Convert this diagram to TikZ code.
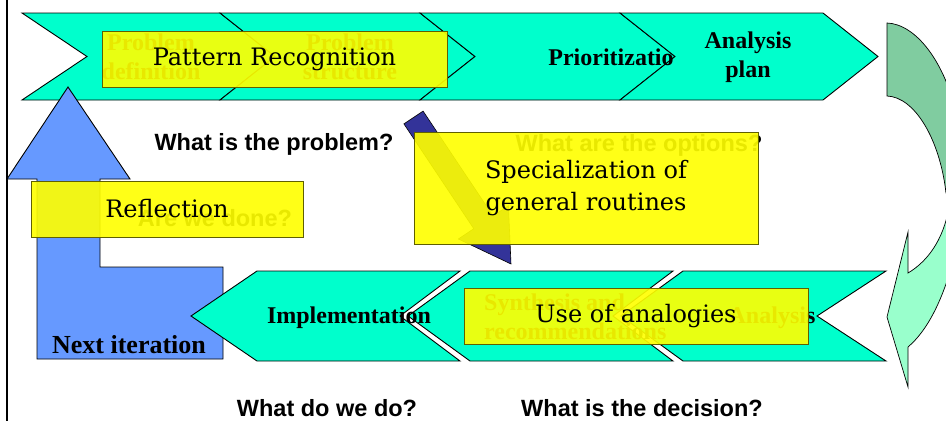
\documentclass[tikz,border=0pt]{standalone}
\usepackage{fontspec}
\setmainfont{Liberation Serif}
\setsansfont{Liberation Sans}
\newfontfamily\notefont{DejaVu Serif}
\definecolor{chevcyan}{RGB}{0,255,204}
\definecolor{noteyellow}{RGB}{255,255,0}
\definecolor{noteedge}{RGB}{96,96,0}
\definecolor{loopblue}{RGB}{102,153,255}
\definecolor{navyarrow}{RGB}{51,51,153}
\definecolor{greendark}{RGB}{128,204,160}
\definecolor{greenlight}{RGB}{153,255,204}

\begin{document}
\begin{tikzpicture}[x=1pt,y=-1pt,
  chevron/.style={fill=chevcyan,draw=black,line width=0.9pt},
  steplabel/.style={font=\bfseries\fontsize{24}{29}\selectfont,align=center,inner sep=0pt},
  question/.style={font=\sffamily\bfseries\fontsize{23.5}{28}\selectfont,inner sep=0pt},
  notebox/.style={fill=noteyellow,fill opacity=0.91,text opacity=1,draw=noteedge,
    line width=1pt,font=\notefont\fontsize{24}{32}\selectfont,align=center,inner sep=0pt}]
  \useasboundingbox (0,0) rectangle (946,421);
  % frame line on the left
  \draw[line width=1.5pt] (7,0) -- (7,421);
  % upper row of chevrons, pointing right
  \foreach \a/\b/\n in {22/220/65, 220/420/55, 420/620/55, 620/823/55}
    \draw[chevron] (\a,13) -- (\b,13) -- (\b+55,56.5) -- (\b,100) -- (\a,100) -- (\a+\n,56.5) -- cycle;
  \node[steplabel] (probdef) at (151,57) {Problem\\definition};
  \node[steplabel] (probstr) at (350,57) {Problem\\structure};
  \node[steplabel] (prio) at (611,57) {Prioritizatio};
  \node[steplabel] (plan) at (748,57) {Analysis\\plan};
  % loop arrow on the left
  \draw[fill=loopblue,line width=0.9pt] (37,359) -- (223,359) -- (223,267) -- (100,267) -- (100,179)
    -- (130,179) -- (68,87) -- (7,179) -- (37,179) -- cycle;
  \node[font=\bfseries\fontsize{26}{30}\selectfont,inner sep=0pt] (next) at (129,345) {Next iteration};
  % lower row of chevrons, pointing left
  \foreach \a/\b/\p/\n in {683/886/62/69, 470/673/62/60, 257/460/66/60}
    \draw[chevron] (\a,271) -- (\b,271) -- (\b-\n,316) -- (\b,361) -- (\a,361) -- (\a-\p,316) -- cycle;
  \node[steplabel] (anal) at (772,318) {Analysis};
  \node[steplabel,align=left,anchor=west] (synth) at (484,317) {Synthesis and\\recommendations};
  \node[steplabel] (impl) at (349,318) {Implementation};
  % slanted arrow between the rows
  \draw[fill=navyarrow,line width=0.6pt] (403.9,123.9) -- (423.1,111.1) -- (493,215.9) -- (508.4,205.7)
    -- (511,264) -- (458.4,239) -- (473.8,228.7) -- cycle;
  % questions
  \node[question] (q1) at (274,144) {What is the problem?};
  \node[question] (q2) at (639,145) {What are the options?};
  \node[question] (q3) at (215,218) {Are we done?};
  \node[question] (q4) at (327,408) {What do we do?};
  \node[question] (q5) at (642,408) {What is the decision?};
  % curved green arrow, cut by the right edge
  \begin{scope}
    \clip (0,0) rectangle (946,421);
    \draw[fill=greendark,line width=0.7pt] (887,23) .. controls (915,24) and (945,60) .. (958,120)
      -- (958,193) -- (946,193) .. controls (940,140) and (915,97) .. (887,96) -- cycle;
    \draw[fill=greenlight,line width=0.7pt] (950,200) .. controls (946,235) and (930,260) .. (908,273)
      -- (908,232) -- (887,317) -- (908,387) -- (908,347) .. controls (928,330) and (942,300) .. (952,265) -- cycle;
  \end{scope}
  % yellow notes on top
  \node[notebox,minimum width=345,minimum height=56] (pattern) at (274.5,59) {Pattern Recognition};
  \node[notebox,minimum width=272,minimum height=56] (reflect) at (167,209) {Reflection};
  \node[notebox,minimum width=344,minimum height=112] (special) at (586,188) {Specialization of\\general routines};
  \node[notebox,minimum width=344,minimum height=56] (analog) at (636,316) {Use of analogies};
\end{tikzpicture}
\end{document}
